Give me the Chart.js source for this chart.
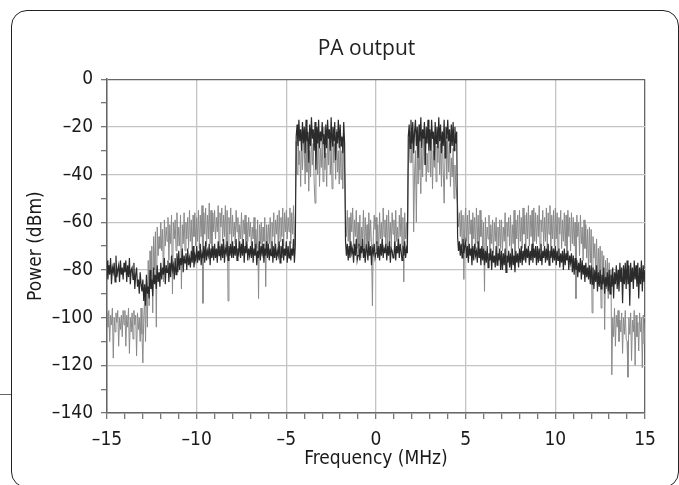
<!DOCTYPE html>
<html>
<head>
<meta charset="utf-8">
<script src="https://cdn.jsdelivr.net/npm/chart.js@4.4.1/dist/chart.umd.min.js"></script>
<style>
  html, body { margin: 0; padding: 0; background: #fff; overflow: hidden; }
  #wrap { position: relative; width: 679px; height: 485px; }
  #frame { position: absolute; left: 11px; top: 10px; width: 668px; height: 478px;
           border: 1.5px solid #222; border-radius: 16px; box-sizing: border-box; }
  #stub { position: absolute; left: 0; top: 394px; width: 11px; height: 1px; background: #666; }
  canvas { position: absolute; left: 0; top: 0; }
</style>
</head>
<body>
<div id="wrap">
  <div id="frame"></div>
  <div id="stub"></div>
  <canvas id="canvas" width="679" height="485"></canvas>
</div>
<script>
// sampling grid of the spectrum (MHz)
var freqStart = -15;
var freqStep = 0.05;

// dark trace, dBm, one row per MHz (20 samples)
var paDark = [
  -76,-84,-78,-82,-75,-86,-79,-81,-77,-85,-74,-83,-80,-78,-85,-76,-82,-79,-84,-77,
  -81,-76,-85,-78,-83,-75,-86,-80,-79,-84,-77,-88,-82,-79,-87,-84,-90,-81,-86,-89,
  -84,-93,-86,-95,-82,-90,-87,-92,-80,-88,-84,-91,-79,-86,-82,-88,-78,-85,-81,-87,
  -77,-84,-79,-82,-75,-86,-78,-81,-76,-85,-77,-83,-74,-80,-78,-84,-75,-82,-73,-81,
  -72,-80,-75,-78,-71,-81,-74,-77,-73,-80,-71,-78,-75,-79,-72,-77,-70,-79,-74,-76,
  -70,-77,-72,-76,-69,-78,-73,-75,-70,-77,-68,-76,-72,-74,-69,-78,-71,-75,-70,-76,
  -69,-75,-71,-77,-68,-74,-70,-76,-69,-75,-67,-77,-71,-73,-68,-76,-70,-74,-69,-75,
  -68,-75,-70,-74,-67,-76,-71,-73,-68,-75,-69,-74,-67,-77,-70,-73,-68,-76,-71,-74,
  -70,-75,-68,-77,-71,-74,-69,-78,-72,-75,-68,-76,-70,-73,-69,-77,-71,-74,-68,-75,
  -69,-76,-71,-74,-68,-77,-70,-75,-69,-76,-72,-74,-68,-77,-70,-75,-67,-76,-71,-74,
  -68,-77,-70,-75,-68,-76,-71,-74,-67,-77,-70,-24,-19,-28,-17,-26,-21,-30,-18,-27,
  -20,-31,-17,-26,-22,-35,-19,-28,-16,-25,-21,-30,-18,-38,-20,-27,-17,-29,-22,-26,
  -18,-27,-23,-33,-19,-29,-17,-25,-21,-30,-16,-28,-20,-26,-18,-34,-22,-27,-17,-29,
  -19,-28,-24,-31,-18,-27,-68,-74,-69,-76,-70,-75,-68,-73,-71,-77,-69,-74,-67,-76,
  -74,-69,-76,-70,-73,-67,-75,-71,-77,-69,-72,-76,-68,-74,-70,-78,-71,-73,-69,-75,
  -73,-68,-75,-70,-76,-69,-74,-67,-75,-71,-73,-69,-76,-70,-74,-68,-77,-71,-72,-75,
  -74,-68,-76,-70,-73,-67,-75,-69,-72,-76,-70,-74,-68,-75,-71,-73,-24,-19,-29,-17,
  -27,-18,-31,-22,-17,-28,-20,-33,-19,-26,-16,-29,-21,-25,-18,-36,-20,-27,-17,-30,
  -21,-30,-17,-25,-22,-34,-18,-27,-20,-29,-16,-26,-19,-31,-22,-28,-17,-33,-20,-25,
  -17,-26,-21,-31,-19,-28,-18,-30,-20,-27,-22,-66,-72,-68,-74,-69,-75,-67,-73,-70,
  -68,-75,-70,-77,-69,-74,-71,-78,-70,-76,-69,-74,-72,-77,-68,-75,-71,-78,-70,-76,
  -71,-78,-72,-77,-70,-79,-73,-76,-71,-80,-72,-77,-74,-79,-70,-78,-73,-76,-71,-80,
  -72,-80,-73,-78,-71,-81,-74,-77,-72,-79,-73,-80,-71,-78,-74,-81,-72,-77,-73,-79,
  -71,-77,-70,-78,-72,-76,-69,-77,-71,-75,-70,-78,-72,-76,-69,-77,-71,-75,-70,-78,
  -70,-77,-71,-76,-69,-78,-72,-75,-70,-77,-71,-76,-69,-78,-72,-75,-70,-77,-71,-76,
  -70,-78,-72,-76,-71,-79,-73,-77,-72,-80,-71,-78,-73,-76,-72,-80,-74,-77,-73,-81,
  -74,-82,-75,-80,-76,-83,-77,-81,-75,-84,-76,-82,-78,-85,-77,-83,-79,-84,-78,-86,
  -78,-86,-79,-88,-80,-85,-78,-89,-81,-87,-80,-88,-82,-86,-79,-90,-83,-87,-81,-89,
  -80,-90,-82,-87,-79,-92,-81,-86,-78,-88,-80,-89,-77,-85,-79,-94,-78,-86,-77,-88,
  -76,-86,-78,-95,-77,-85,-79,-88,-76,-84,-78,-87,-77,-92,-79,-86,-76,-89,-78,-85,
  -80
];

// gray trace, dBm
var paGray = [
  -98,-104,-97,-110,-99,-103,-96,-117,-100,-106,-98,-102,-97,-112,-100,-105,-99,-108,-97,-103,
  -97,-112,-99,-104,-96,-115,-100,-106,-98,-109,-97,-103,-99,-116,-98,-105,-100,-110,-96,-107,
  -119,-100,-92,-110,-84,-104,-76,-95,-72,-88,-70,-98,-66,-80,-64,-104,-62,-74,-66,-71,
  -60,-72,-63,-85,-59,-70,-62,-68,-58,-76,-61,-69,-57,-90,-60,-67,-59,-72,-56,-70,
  -62,-70,-57,-88,-61,-69,-56,-72,-60,-67,-58,-71,-55,-68,-59,-74,-57,-66,-56,-70,
  -58,-68,-55,-71,-57,-66,-53,-94,-56,-65,-54,-70,-57,-67,-52,-69,-55,-72,-56,-64,
  -55,-67,-58,-64,-53,-71,-56,-62,-54,-68,-57,-66,-53,-70,-55,-93,-58,-65,-54,-69,
  -57,-66,-60,-69,-55,-64,-58,-72,-61,-67,-56,-70,-59,-65,-57,-71,-60,-68,-58,-66,
  -60,-70,-62,-67,-58,-73,-63,-71,-59,-92,-61,-69,-60,-74,-62,-68,-58,-87,-61,-70,
  -61,-69,-58,-72,-60,-66,-56,-70,-59,-65,-57,-71,-55,-68,-58,-66,-54,-70,-56,-64,
  -55,-67,-58,-64,-54,-69,-56,-65,-53,-70,-57,-26,-40,-22,-36,-30,-45,-24,-38,-27,
  -28,-44,-21,-39,-25,-47,-30,-41,-23,-36,-27,-43,-52,-33,-25,-40,-22,-45,-29,-37,
  -26,-43,-20,-38,-31,-45,-24,-36,-22,-40,-28,-46,-23,-35,-27,-42,-21,-39,-30,-44,
  -27,-42,-30,-46,-25,-38,-57,-66,-55,-68,-58,-73,-56,-64,-54,-70,-59,-66,-55,-71,
  -60,-70,-57,-75,-62,-67,-55,-72,-58,-69,-61,-74,-56,-68,-59,-71,-95,-66,-57,-63,
  -58,-69,-61,-74,-56,-67,-60,-72,-54,-66,-59,-70,-57,-73,-55,-68,-60,-71,-56,-65,
  -59,-71,-55,-68,-62,-73,-57,-66,-54,-70,-58,-85,-56,-67,-60,-72,-38,-25,-35,-22,
  -35,-22,-64,-40,-30,-60,-27,-44,-24,-38,-48,-29,-41,-23,-36,-26,-43,-31,-39,-25,
  -26,-41,-23,-46,-30,-37,-21,-43,-28,-35,-24,-40,-27,-45,-22,-38,-52,-31,-26,-42,
  -24,-39,-27,-45,-33,-41,-29,-50,-36,-44,-48,-53,-62,-56,-66,-55,-70,-57,-84,-60,
  -54,-68,-57,-72,-55,-65,-59,-74,-56,-67,-58,-71,-54,-69,-57,-75,-55,-66,-59,-72,
  -60,-89,-58,-70,-62,-67,-57,-76,-61,-69,-59,-73,-60,-68,-58,-77,-62,-70,-59,-71,
  -59,-72,-62,-68,-56,-75,-60,-66,-58,-70,-57,-73,-61,-69,-55,-74,-59,-67,-57,-71,
  -55,-68,-58,-71,-54,-65,-57,-73,-56,-67,-53,-70,-57,-66,-55,-72,-54,-68,-56,-69,
  -57,-66,-53,-72,-59,-64,-55,-70,-58,-68,-54,-71,-56,-65,-53,-73,-57,-67,-55,-70,
  -54,-67,-56,-73,-58,-65,-55,-71,-59,-68,-56,-70,-57,-74,-55,-66,-58,-72,-56,-69,
  -58,-70,-60,-92,-57,-66,-60,-74,-57,-69,-62,-76,-59,-71,-61,-75,-63,-80,-62,-77,
  -63,-98,-66,-75,-69,-80,-67,-86,-71,-82,-70,-96,-72,-84,-74,-105,-76,-88,-75,-92,
  -77,-90,-80,-124,-100,-108,-96,-112,-99,-104,-97,-110,-101,-106,-98,-115,-100,-107,-97,-109,
  -110,-125,-100,-107,-98,-118,-101,-106,-97,-120,-99,-108,-102,-114,-98,-106,-100,-121,-99,-111,
  -102
];

var xTicks = [-15, -10, -5, 0, 5, 10, 15];
var yTicks = [0, -20, -40, -60, -80, -100, -120, -140];

function toPoints(vals) {
  var pts = [];
  for (let i = 0; i < vals.length; i++) {
    pts.push({ x: Math.round((freqStart + i * freqStep) * 100) / 100, y: vals[i] });
  }
  return pts;
}

function dashNum(v) {
  return v < 0 ? '\u2013' + Math.abs(v) : String(v);
}

var tickFont = { family: '"DejaVu Sans Condensed", "DejaVu Sans", sans-serif', size: 19 };

const ctx = document.getElementById('canvas');

new Chart(ctx, {
  type: 'line',
  data: {
    datasets: [{
      label: 'dark',
      data: toPoints(paDark),
      borderColor: '#2b2b2b',
      borderWidth: 1.2,
      pointRadius: 0,
      tension: 0
    }, {
      label: 'gray',
      data: toPoints(paGray),
      borderColor: '#8a8a8a',
      borderWidth: 1,
      pointRadius: 0,
      tension: 0
    }]
  },
  options: {
    responsive: false,
    animation: false,
    layout: { padding: { left: 0, right: -54, top: 0, bottom: 0 } },
    plugins: {
      legend: { display: false },
      tooltip: { enabled: false },
      title: {
        display: true,
        text: 'PA output',
        color: '#222',
        font: { family: '"Open Sans", sans-serif', size: 21, weight: 'normal' },
        padding: { top: 36, bottom: 18 }
      }
    },
    scales: {
      x: {
        type: 'linear',
        min: -15,
        max: 15,
        afterFit: function (s) { s.height = 72; },
        ticks: {
          stepSize: 1,
          autoSkip: false,
          maxRotation: 0,
          padding: 10,
          color: '#1a1a1a',
          font: tickFont,
          callback: function (v) { return xTicks.indexOf(v) >= 0 ? dashNum(v) : ''; }
        },
        grid: {
          color: function (c) {
            var v = c.tick && c.tick.value;
            if (v === 15) return '#666';
            return xTicks.indexOf(v) >= 0 ? '#c4c4c4' : 'rgba(0,0,0,0)';
          },
          lineWidth: 1.3,
          tickColor: '#777',
          tickLength: 6
        },
        border: { color: '#666', width: 1.5 },
        title: {
          display: true,
          text: 'Frequency (MHz)',
          color: '#1a1a1a',
          font: tickFont,
          padding: { top: 0, bottom: 15 }
        }
      },
      y: {
        min: -140,
        max: 0,
        afterFit: function (s) { s.width = 107; },
        ticks: {
          stepSize: 10,
          autoSkip: false,
          padding: 8,
          color: '#1a1a1a',
          font: tickFont,
          callback: function (v) { return yTicks.indexOf(v) >= 0 ? dashNum(v) : ''; }
        },
        grid: {
          color: function (c) {
            var v = c.tick && c.tick.value;
            if (v === 0) return '#666';
            return yTicks.indexOf(v) >= 0 ? '#c4c4c4' : 'rgba(0,0,0,0)';
          },
          lineWidth: 1.3,
          tickColor: '#777',
          tickLength: 6
        },
        border: { color: '#666', width: 1.5 },
        title: {
          display: true,
          text: 'Power (dBm)',
          color: '#1a1a1a',
          font: tickFont,
          padding: { top: 25, bottom: 0 }
        }
      },
      // empty spacer on the right so the title centres like the original
      yPad: {
        position: 'right',
        min: 0,
        max: 1,
        afterFit: function (s) { s.width = 88; },
        ticks: { display: false },
        grid: { display: false },
        border: { display: false }
      }
    }
  }
});
</script>
</body>
</html>
